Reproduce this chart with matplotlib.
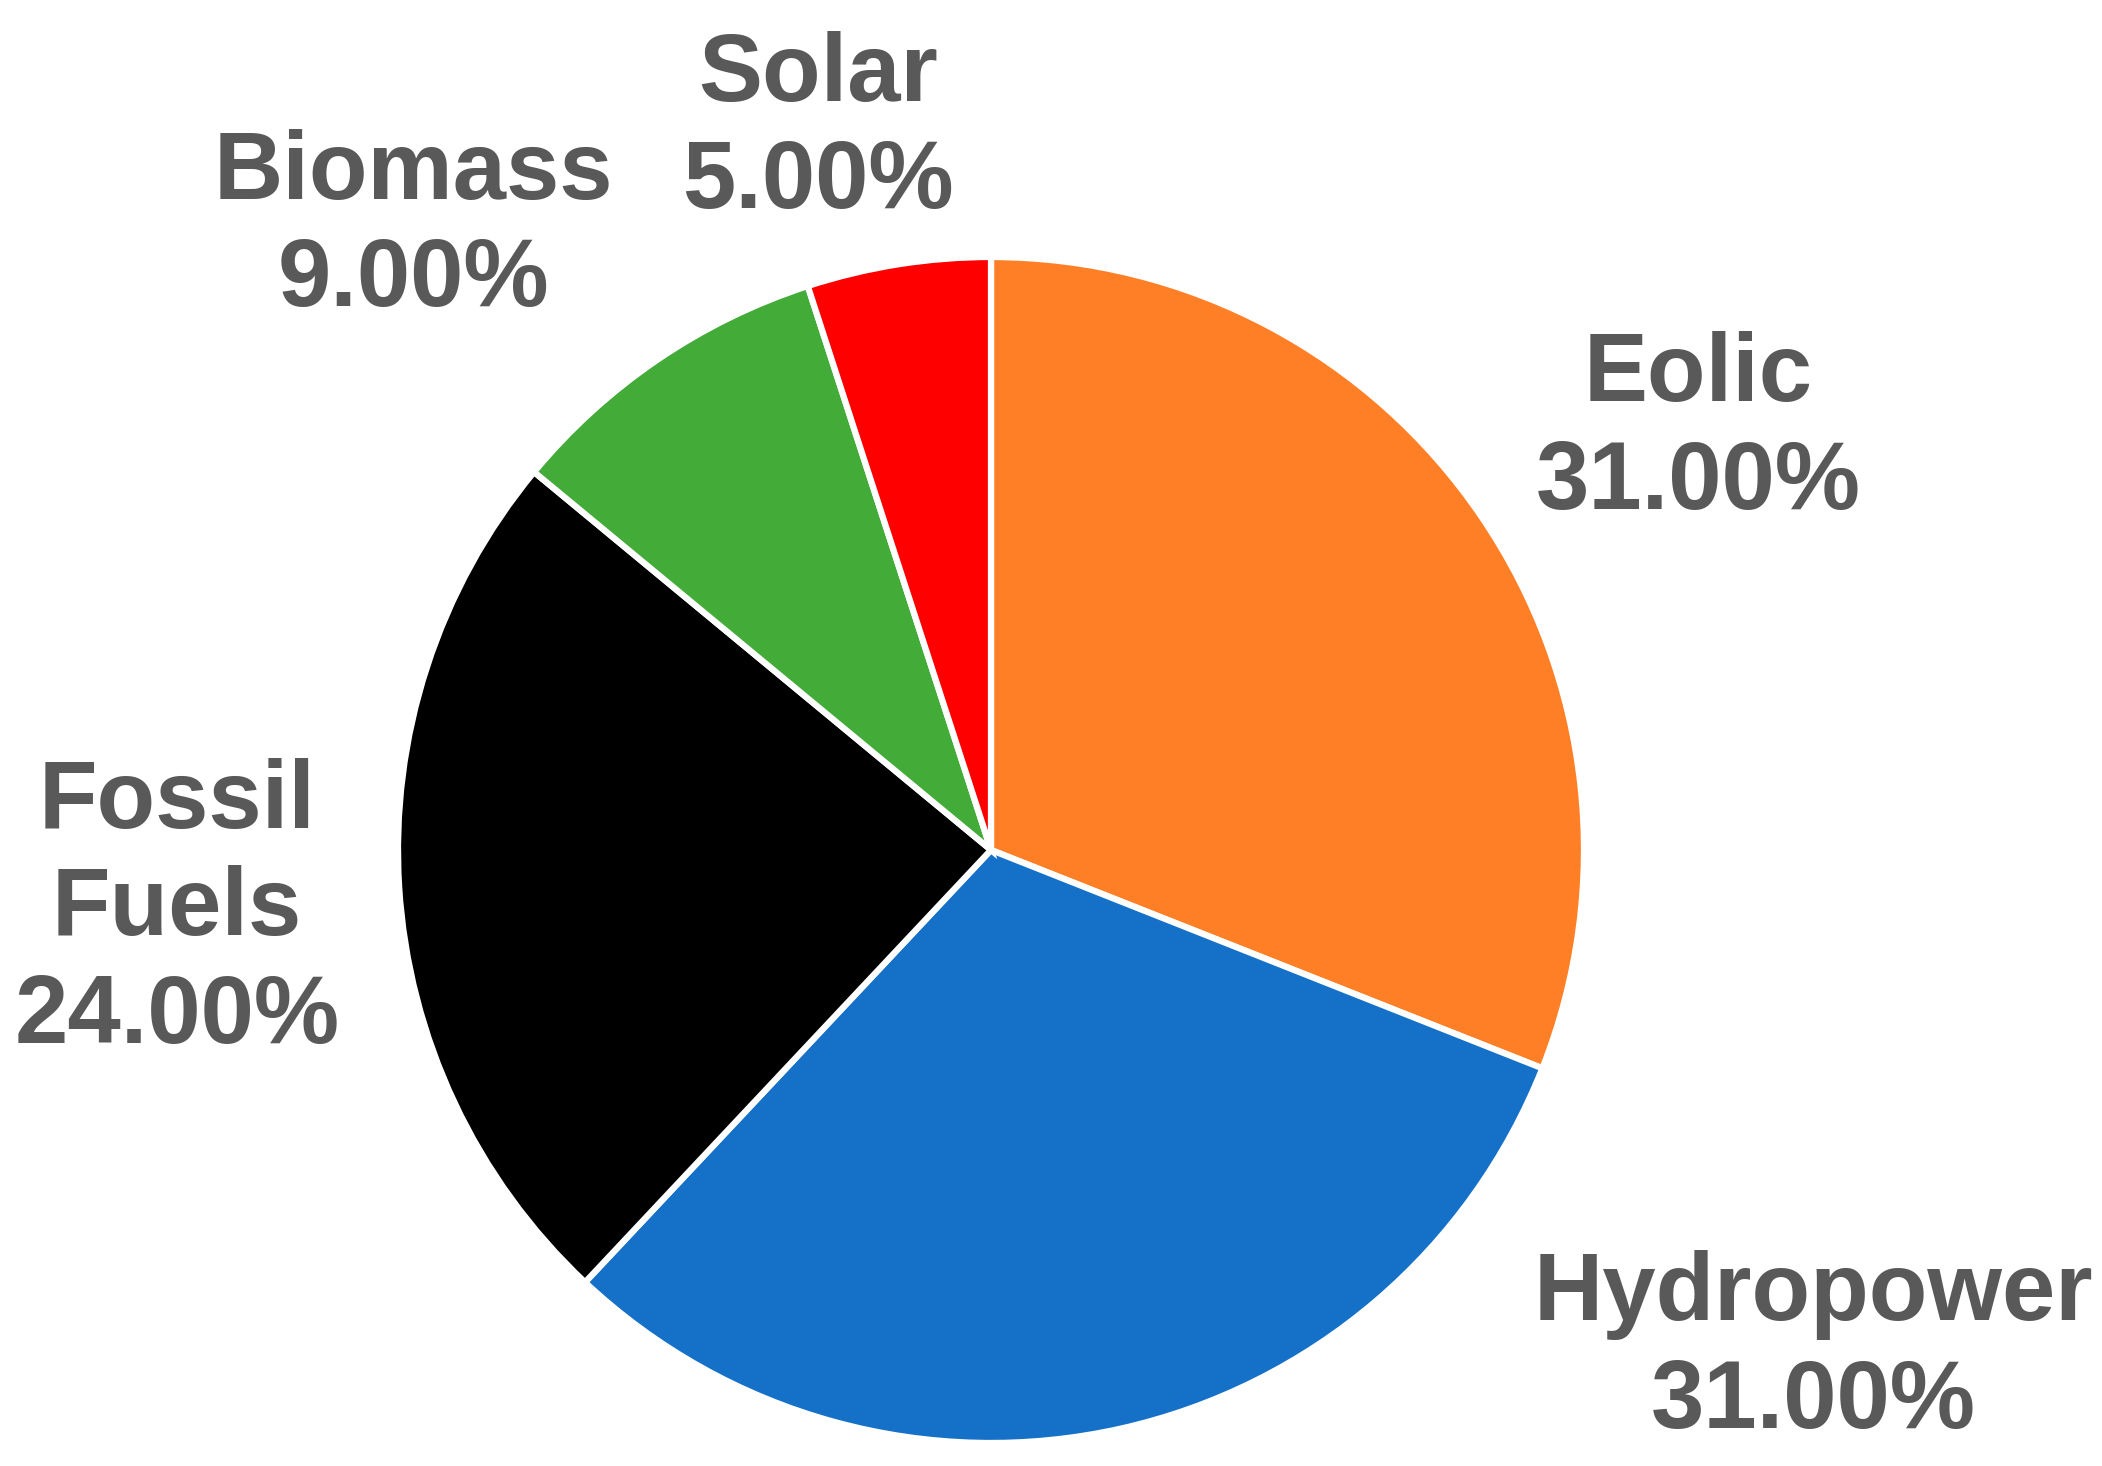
import matplotlib
matplotlib.use("Agg")
import matplotlib.pyplot as plt

# ---- data ----
categories = ["Eolic", "Hydropower", "Fossil\nFuels", "Biomass", "Solar"]
shares = [31.0, 31.0, 24.0, 9.0, 5.0]
colors = ["#FF7F27", "#1570C8", "#000000", "#43AB38", "#FF0000"]

# ---- layout (pixel coordinates, y from top) ----
W, H = 2102, 1466
center_px = (991, 850)
radius_px = 593
# label anchor: (x center, last-line baseline)
label_pos = [(1698, 509), (1813, 1428), (177, 1043), (413, 306), (818, 208)]
text_color = "#595959"

fig = plt.figure(figsize=(W / 100, H / 100), dpi=100)
ax = fig.add_axes([0, 0, 1, 1])
ax.set_xlim(0, W)
ax.set_ylim(0, H)
ax.set_aspect("equal")
ax.axis("off")

ax.pie(shares, colors=colors, startangle=90, counterclock=False,
       center=(center_px[0], H - center_px[1]), radius=radius_px,
       wedgeprops=dict(edgecolor="white", linewidth=4.5), frame=False)
ax.set_xlim(0, W)
ax.set_ylim(0, H)

for cat, val, (x, y) in zip(categories, shares, label_pos):
    ax.text(x, H - y, f"{cat}\n{val:.2f}%", ha="center", va="baseline",
            multialignment="center", fontsize=69, fontweight="bold",
            linespacing=1.25,
            family=["Liberation Sans", "DejaVu Sans"], color=text_color)

fig.savefig("out.png", dpi=100, facecolor="white")
